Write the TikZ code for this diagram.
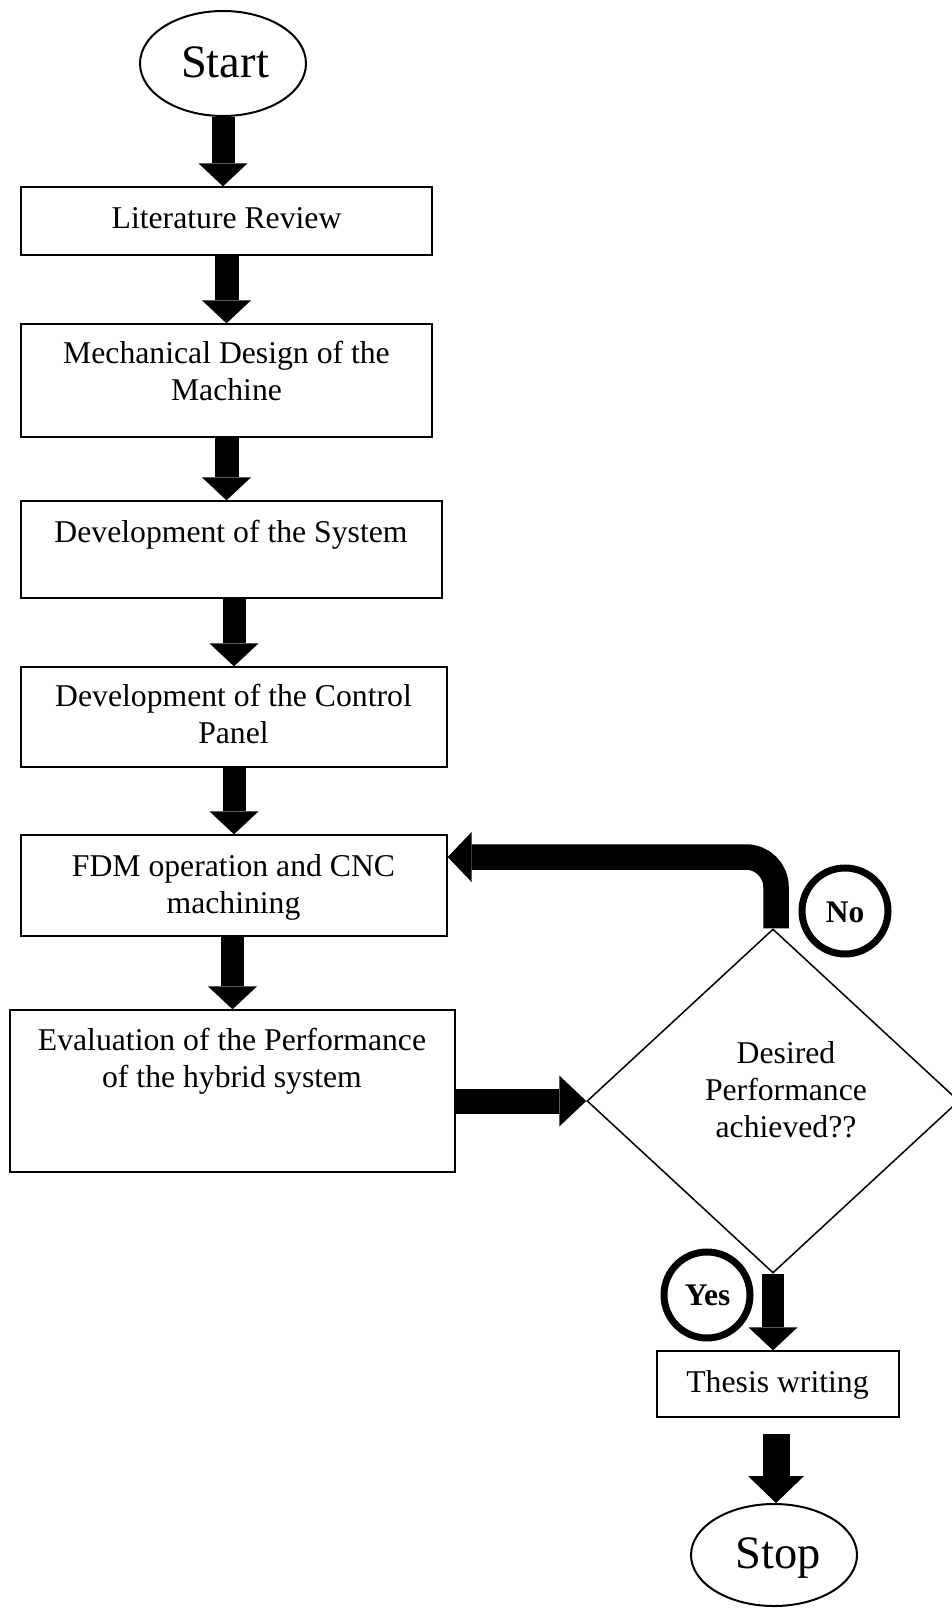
\documentclass[tikz,border=0pt]{standalone}
\usepackage{fontspec}
\setmainfont{Liberation Serif}
\usetikzlibrary{arrows.meta,shapes.geometric,calc}
\begin{document}
\begin{tikzpicture}[x=1pt,y=-1pt,
  box/.style={draw=black, line width=1.3pt, rectangle, inner sep=0pt},
  txt/.style={font=\fontsize{31.7pt}{36.8pt}\selectfont, align=center, inner sep=0pt, anchor=base},
  bigtxt/.style={font=\fontsize{46.5pt}{50pt}\selectfont, inner sep=0pt, anchor=base},
  lbl/.style={font=\fontsize{31.5pt}{36pt}\selectfont\bfseries, inner sep=0pt, anchor=base},
  term/.style={draw=black, line width=2pt, ellipse, inner sep=0pt},
  ring/.style={draw=black, line width=7pt, circle, inner sep=0pt, minimum size=86pt},
  flow/.style={line width=23pt, -{Triangle[width=49pt,length=23pt,line width=0pt]}},
]
\useasboundingbox (0,0) rectangle (952,1608);

% terminals
\node[term, minimum width=166pt, minimum height=105pt] (start) at (223,63.5) {};
\node[bigtxt] (starttxt) at (225,78) {Start};
\node[term, minimum width=166pt, minimum height=102pt] (stop) at (774,1555) {};
\node[bigtxt] (stoptxt) at (778,1568) {Stop};

% boxes (text nodes anchored at the baseline of their last line)
\node[box, minimum width=411pt, minimum height=68pt] (lit) at (226.5,221) {};
\node[txt] (littxt) at (226.5,228) {Literature Review};
\node[box, minimum width=411pt, minimum height=113pt] (mech) at (226.5,380.5) {};
\node[txt] (mechtxt) at (226.5,400) {Mechanical Design of the\\Machine};
\node[box, minimum width=421pt, minimum height=97pt] (dev) at (231.5,549.5) {};
\node[txt] (devtxt) at (231,542) {Development of the System};
\node[box, minimum width=426pt, minimum height=100pt] (ctrl) at (234,717) {};
\node[txt] (ctrltxt) at (233.5,743) {Development of the Control\\Panel};
\node[box, minimum width=426pt, minimum height=101pt] (fdm) at (234,885.5) {};
\node[txt] (fdmtxt) at (233.5,913) {FDM operation and CNC\\machining};
\node[box, minimum width=445pt, minimum height=162pt] (eval) at (232.5,1091) {};
\node[txt] (evaltxt) at (232,1087) {Evaluation of the Performance\\of the hybrid system};
\node[box, minimum width=242pt, minimum height=66pt] (thesis) at (778,1384) {};
\node[txt] (thesistxt) at (777.5,1392) {Thesis writing};

% decision
\node[draw=black, line width=1.5pt, diamond, minimum width=372pt, minimum height=344pt, inner sep=0pt] (dec) at (773,1101) {};
\node[txt] (dectxt) at (786,1137) {Desired\\Performance\\achieved??};

% rings
\node[ring] (nor) at (845,911) {};
\node[lbl] (notxt) at (845,922) {No};
\node[ring] (yesr) at (707,1295) {};
\node[lbl] (yestxt) at (707.5,1305) {Yes};

% connectors
\draw[flow] (start.south) -- (start.south |- lit.north);
\draw[flow, line width=24pt] (lit.south) -- (mech.north);
\draw[flow, line width=24pt] (mech.south) -- (mech.south |- dev.north);
\draw[flow] (dev.south -| ctrl.north) -- (ctrl.north);
\draw[flow] (ctrl.south) -- (fdm.north);
\draw[flow] (fdm.south -| eval.north) -- (eval.north);
\draw[flow, line width=25pt, -{Triangle[width=51pt,length=27pt,line width=0pt]}] (eval.east |- dec.west) -- (dec.west);
\coordinate (nobend) at (776,857);
\draw[flow, line width=25.5pt, rounded corners=30pt, -{Triangle[width=50pt,length=24pt,line width=0pt]}] ($(dec.north)+(3,0)$) -- (nobend) -- (fdm.east |- nobend);
\draw[flow, line width=22pt] (dec.south) -- (dec.south |- thesis.north);
\coordinate (s1) at ($(thesis.south)+(-2,16)$);
\draw[flow, line width=27pt, -{Triangle[width=56pt,length=27pt,line width=0pt]}] (s1) -- (s1 |- stop.north);
\end{tikzpicture}
\end{document}
